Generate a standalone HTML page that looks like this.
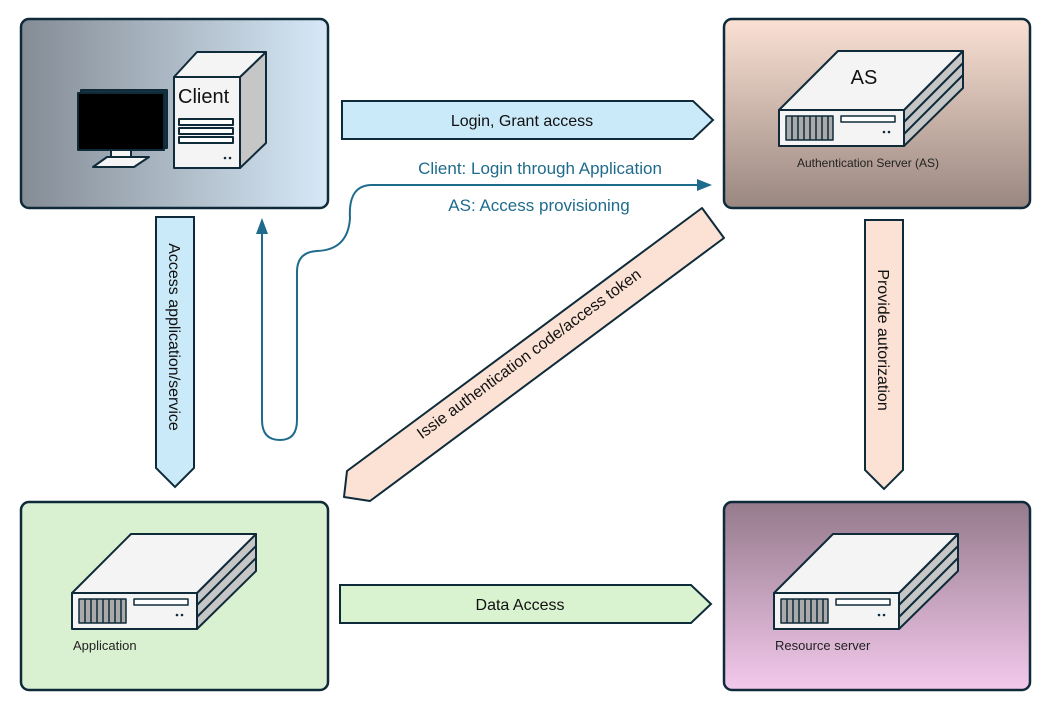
<!DOCTYPE html>
<html><head><meta charset="utf-8"><style>
html,body{margin:0;padding:0;background:#fff;}
svg{display:block;font-family:"Liberation Sans",sans-serif;}
</style></head><body>
<svg width="1048" height="707" viewBox="0 0 1048 707" xmlns="http://www.w3.org/2000/svg">
<defs>
<linearGradient id="gc" x1="0" y1="0" x2="1" y2="0"><stop offset="0" stop-color="#848c95"/><stop offset="1" stop-color="#d6e8f7"/></linearGradient>
<linearGradient id="ga" x1="0" y1="0" x2="0" y2="1"><stop offset="0" stop-color="#fbe1d4"/><stop offset="1" stop-color="#998780"/></linearGradient>
<linearGradient id="gr" x1="0" y1="0" x2="0" y2="1"><stop offset="0" stop-color="#957a8c"/><stop offset="1" stop-color="#f3c9ec"/></linearGradient>
<g id="srv" stroke="#0f2b3a" stroke-width="2" stroke-linejoin="round">
<polygon points="125,59 184,0 184,37 125,95" fill="#c6c6c6"/>
<polyline points="125,71 184,12" fill="none"/>
<polyline points="125,83 184,24" fill="none"/>
<polygon points="0,59 59,0 184,0 125,59" fill="#f4f4f4"/>
<rect x="0" y="59" width="125" height="36" fill="#f4f4f4"/>
<rect x="7" y="65" width="47" height="24" fill="#aaa" stroke-width="1.5"/>
<g stroke-width="1.5"><line x1="13" y1="65" x2="13" y2="89"/><line x1="19" y1="65" x2="19" y2="89"/><line x1="25" y1="65" x2="25" y2="89"/><line x1="31" y1="65" x2="31" y2="89"/><line x1="37" y1="65" x2="37" y2="89"/><line x1="43" y1="65" x2="43" y2="89"/><line x1="49" y1="65" x2="49" y2="89"/></g>
<rect x="62" y="65" width="54" height="6" fill="#fff" stroke-width="1.5"/>
<circle cx="105" cy="81" r="1.3" fill="#0f2b3a" stroke="none"/><circle cx="110" cy="81" r="1.3" fill="#0f2b3a" stroke="none"/>
</g>
</defs>

<rect x="21" y="19" width="307" height="189" rx="8" fill="url(#gc)" stroke="#0f2b3a" stroke-width="2.5"/>
<rect x="724" y="19" width="306" height="189" rx="8" fill="url(#ga)" stroke="#0f2b3a" stroke-width="2.5"/>
<rect x="21" y="502" width="307" height="188" rx="8" fill="#d9f1d1" stroke="#0f2b3a" stroke-width="2.5"/>
<rect x="724" y="502" width="306" height="188" rx="8" fill="url(#gr)" stroke="#0f2b3a" stroke-width="2.5"/>

<g stroke="#0f2b3a" stroke-width="2" stroke-linejoin="round">
<polygon points="93,167 107,157 149,157 134,167" fill="#f4f4f4"/>
<rect x="111" y="150" width="20" height="7" fill="#f4f4f4"/>
<rect x="81" y="90" width="86" height="58" fill="#1a3340"/>
<rect x="78" y="93" width="86" height="57" fill="#000"/>
<polygon points="240,77 266,52 266,143 240,168" fill="#c6c6c6"/>
<polygon points="174,77 197,52 266,52 240,77" fill="#f4f4f4"/>
<rect x="174" y="77" width="66" height="91" fill="#f4f4f4"/>
<rect x="179" y="119" width="54" height="6" fill="#fff"/>
<rect x="179" y="128" width="54" height="6" fill="#fff"/>
<rect x="179" y="137" width="54" height="6" fill="#fff"/>
</g>
<circle cx="225" cy="158" r="1.3" fill="#0f2b3a"/><circle cx="230" cy="158" r="1.3" fill="#0f2b3a"/>
<text x="178" y="103" font-size="20" fill="#111">Client</text>

<use href="#srv" x="779" y="51"/>
<text x="864" y="84" font-size="20" fill="#111" text-anchor="middle">AS</text>
<text x="868" y="167" font-size="12" fill="#222" text-anchor="middle">Authentication Server (AS)</text>
<use href="#srv" x="72" y="534"/>
<text x="73" y="650" font-size="13" fill="#222">Application</text>
<use href="#srv" x="774" y="534"/>
<text x="775" y="650" font-size="13" fill="#222">Resource server</text>

<polygon points="342,101 693,101 713,120 693,139 342,139" fill="#cbeaf9" stroke="#0f2b3a" stroke-width="2"/>
<text x="522" y="126" font-size="16" fill="#111" text-anchor="middle">Login, Grant access</text>
<polygon points="340,585 691,585 711,604 691,623 340,623" fill="#d9f2d0" stroke="#0f2b3a" stroke-width="2"/>
<text x="520" y="610" font-size="16" fill="#111" text-anchor="middle">Data Access</text>
<polygon points="156,217 194,217 194,468 175,487 156,468" fill="#cbeaf9" stroke="#0f2b3a" stroke-width="2"/>
<text transform="translate(169,337) rotate(90)" font-size="16" fill="#111" text-anchor="middle">Access application/service</text>
<polygon points="865,220 903,220 903,470 884,489 865,470" fill="#fbe2d5" stroke="#0f2b3a" stroke-width="2"/>
<text transform="translate(878,340) rotate(90)" font-size="16" fill="#111" text-anchor="middle">Provide autorization</text>
<polygon points="702,208 724,238 370,501 344,497 347,471" fill="#fbe2d5" stroke="#0f2b3a" stroke-width="2" stroke-linejoin="round"/>
<text transform="translate(532,358) rotate(-36.5)" font-size="16" fill="#111" text-anchor="middle">Issie authentication code/access token</text>

<path d="M262,232 V420 Q262,440 280,440 Q297,440 297,420 V272 Q297,252 317,251 Q348,250 350,218 Q348,185 372,185 H700" fill="none" stroke="#1f6b8c" stroke-width="2"/>
<polygon points="262,218 256,234 268,234" fill="#1f6b8c"/>
<polygon points="712,185 697,179 697,191" fill="#1f6b8c"/>
<text x="540" y="174" font-size="17" fill="#1f6b8c" text-anchor="middle">Client: Login through Application</text>
<text x="539" y="211" font-size="17" fill="#1f6b8c" text-anchor="middle">AS: Access provisioning</text>
</svg>
</body></html>
